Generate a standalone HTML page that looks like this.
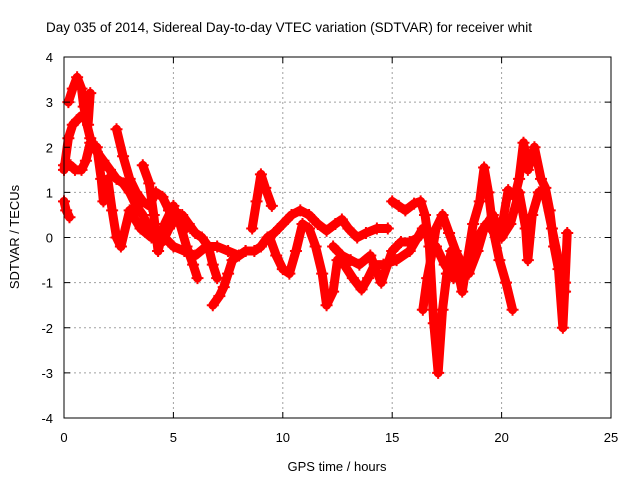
<!DOCTYPE html>
<html><head><meta charset="utf-8"><style>
body{margin:0;background:#fff}
svg text{font-family:"Liberation Sans",Arial,sans-serif;font-size:13px;fill:#000}
</style></head><body>
<svg id="chart" width="640" height="480" xmlns="http://www.w3.org/2000/svg">
<text x="46" y="32" style="font-size:13.5px">Day 035 of 2014, Sidereal Day-to-day VTEC variation (SDTVAR) for receiver whit</text>
<g id="grid"></g>
<g id="marks"></g>
<rect x="64" y="57" width="547" height="361" fill="none" stroke="#000" stroke-width="1"/>
<g id="ticks"></g>
<text x="337" y="471" text-anchor="middle">GPS time / hours</text>
<text transform="translate(19,237) rotate(-90)" text-anchor="middle">SDTVAR / TECUs</text>
</svg>
<script>
const xTicks=[0,5,10,15,20,25];
const yTicks=[-4,-3,-2,-1,0,1,2,3,4];
const track1=[[0,1.5],[0.2,2.2],[0.4,2.5],[0.6,2.6],[0.8,2.7],[1.0,2.6],[1.2,2.2],[1.5,1.9],[1.8,1.7],[2.1,1.5],[2.4,1.3],[2.7,1.2],[3.0,1.0],[3.3,0.7],[3.6,0.5],[3.9,0.2],[4.2,0.0],[4.5,-0.1],[4.8,0.2],[5.1,0.4],[5.4,0.5],[5.7,0.3],[6.0,0.1],[6.3,0.0],[6.6,-0.2],[6.8,-0.6],[7.0,-0.9]];
const track2=[[0.2,3.0],[0.4,3.3],[0.6,3.55],[0.8,3.3],[0.9,2.9],[1.1,2.5],[1.2,3.2]];
const track3=[[0,1.6],[0.3,1.6],[0.5,1.5],[0.8,1.5],[1.0,1.7],[1.2,2.1],[1.5,2.0],[1.7,1.3],[1.8,0.8]];
const track4=[[0,0.8],[0.1,0.6],[0.25,0.45]];
const track5=[[2.4,2.4],[2.7,1.8],[3.0,1.3],[3.3,1.0],[3.6,0.8],[3.9,0.7],[4.2,1.0],[4.5,0.9],[4.8,0.6],[5.0,0.4],[5.3,0.5],[5.6,0.2]];
const track6=[[2.0,1.3],[2.2,0.6],[2.4,0.0],[2.6,-0.2],[3.0,0.6],[3.5,0.2],[4.0,0.0],[4.5,0.05],[5.0,-0.2],[5.5,-0.3],[6.0,-0.4],[6.5,-0.2],[7.0,-0.2],[7.5,-0.3],[8.0,-0.4],[8.3,-0.3]];
const track7=[[3.6,1.6],[3.9,1.2],[4.1,0.5],[4.3,-0.3],[4.6,0.3],[5.0,0.7],[5.3,0.3],[5.6,-0.2],[5.9,-0.6],[6.1,-0.9]];
const track8=[[6.8,-1.5],[7.1,-1.3],[7.3,-1.1],[7.5,-0.8],[7.7,-0.5],[8.0,-0.4],[8.3,-0.3],[8.7,-0.3],[9.0,-0.2],[9.3,0.0],[9.6,0.1],[10.0,0.3],[10.4,0.5],[10.8,0.6],[11.2,0.5],[11.6,0.3],[12.0,0.15],[12.4,0.3],[12.7,0.4],[13.0,0.2],[13.4,0.0],[13.8,0.1],[14.3,0.2],[14.8,0.2]];
const track9=[[8.6,0.2],[8.8,0.8],[9.0,1.4],[9.2,1.1],[9.5,0.7]];
const track10=[[9.4,0.0],[9.7,-0.4],[10.0,-0.7],[10.3,-0.8],[10.6,-0.3],[10.9,0.3],[11.2,0.2],[11.5,-0.2],[11.8,-0.8],[12.0,-1.5],[12.3,-1.2],[12.5,-0.5],[12.8,-0.6],[13.2,-0.9],[13.6,-1.15],[13.9,-0.9],[14.2,-0.6],[14.6,-0.6],[15.2,-0.5],[15.8,-0.3],[16.4,0.2]];
const track11=[[12.3,-0.2],[12.7,-0.4],[13.1,-0.5],[13.5,-0.6],[14.0,-0.4],[14.5,-1.0],[15.0,-0.3],[15.4,-0.1],[15.8,-0.1],[16.2,0.0]];
const track12=[[15.0,0.8],[15.3,0.7],[15.6,0.6],[16.0,0.75],[16.3,0.8],[16.5,0.5],[16.7,-0.2],[16.9,-1.9],[17.1,-3.0],[17.3,-1.6],[17.5,-0.8],[17.7,-0.3],[17.9,-0.5],[18.2,-1.2],[18.4,-0.6],[18.7,0.3],[19.0,0.8],[19.2,1.55],[19.4,1.0],[19.6,0.2],[19.9,-0.5],[20.2,-1.0],[20.5,-1.6]];
const track13=[[16.4,-1.6],[16.6,-0.9],[16.8,-0.4],[17.0,0.2],[17.3,0.5],[17.6,0.1],[17.9,-0.3],[18.3,-0.7],[18.6,-0.4],[18.9,0.0],[19.3,0.3],[19.7,0.1],[20.0,0.2],[20.3,1.05],[20.6,0.9],[20.8,1.3],[21.0,2.1],[21.2,1.5],[21.5,2.0],[21.8,1.3],[22.0,1.1],[22.2,0.6],[22.4,-0.2],[22.6,-0.7],[22.8,-2.0],[22.9,-1.0],[23.0,0.1]];
const track14=[[17.0,-0.2],[17.4,-0.6],[17.8,-0.9],[18.1,-0.5],[18.5,-0.8],[18.9,-0.3],[19.2,0.2],[19.6,0.5],[20.0,0.0],[20.4,0.3],[20.8,1.0],[21.1,0.2],[21.2,-0.5],[21.4,0.5],[21.7,1.0],[22.0,0.9],[22.3,0.2],[22.6,-0.5],[22.9,-1.2]];
const tracks=[track1,track2,track3,track4,track5,track6,track7,track8,track9,track10,track11,track12,track13,track14];
const NS="http://www.w3.org/2000/svg";
const X=h=>64+h*547/25, Y=v=>237.5-v*361/8;
const grid=document.getElementById('grid'),ticks=document.getElementById('ticks'),marks=document.getElementById('marks'),svg=document.getElementById('chart');
function mk(tag,attrs,parent){const e=document.createElementNS(NS,tag);for(const k in attrs)e.setAttribute(k,attrs[k]);parent.appendChild(e);return e;}
xTicks.forEach(t=>{const x=X(t);
 if(t>0&&t<25){const g=mk('line',{x1:x,y1:57,x2:x,y2:418,stroke:'#a0a0a0','stroke-dasharray':'2,3'},grid);
 
 }
 const a=mk('line',{x1:x,y1:418,x2:x,y2:412,stroke:'#000'},ticks);
 
 
 const b=mk('line',{x1:x,y1:57,x2:x,y2:63,stroke:'#000'},ticks);
 
 
 const l=mk('text',{x:x,y:442,'text-anchor':'middle'},svg);l.textContent=t;
 
 });
yTicks.forEach(t=>{const y=Y(t);
 if(t>-4&&t<4){const g=mk('line',{x1:64,y1:y,x2:611,y2:y,stroke:'#a0a0a0','stroke-dasharray':'2,3'},grid);
 
 }
 const a=mk('line',{x1:64,y1:y,x2:70,y2:y,stroke:'#000'},ticks);
 
 
 const b=mk('line',{x1:611,y1:y,x2:605,y2:y,stroke:'#000'},ticks);
 
 
 const l=mk('text',{x:53,y:y+5,'text-anchor':'end'},svg);l.textContent=t;
 
 });
tracks.forEach((tr,i)=>{
 const p=mk('polyline',{points:tr.map(d=>X(d[0])+','+Y(d[1])).join(' '),fill:'none',stroke:'#ff0000','stroke-width':9,'stroke-linejoin':'round','stroke-linecap':'round'},marks);
 
 
 tr.forEach(d=>{const x=X(d[0]),y=Y(d[1]);
  const m=mk('path',{d:`M${x-6},${y}H${x+6}M${x},${y-6}V${y+6}`,stroke:'#ff0000','stroke-width':2},marks);
  
  });
});
</script>
</body></html>
